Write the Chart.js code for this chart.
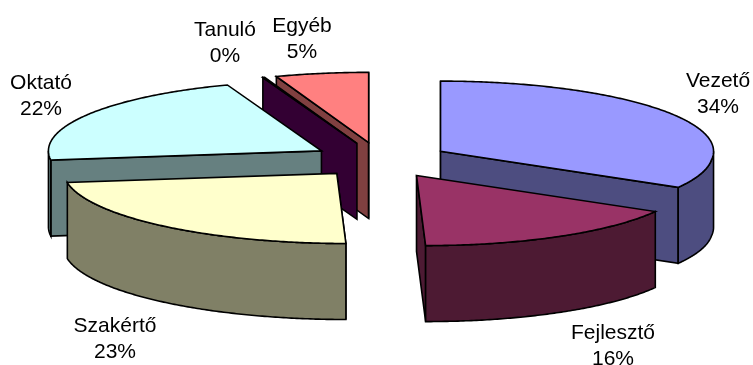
<!DOCTYPE html>
<html>
<head>
<meta charset="utf-8">
<title>Pie</title>
<script src="https://cdn.jsdelivr.net/npm/chart.js@4"></script>
<style>
html, body { margin: 0; padding: 0; background: #fff; }
#wrap { width: 753px; height: 365px; }
</style>
</head>
<body>
<div id="wrap"><canvas id="myChart"></canvas></div>
<script>
const categories = ['Vezető', 'Fejlesztő', 'Szakértő', 'Oktató', 'Tanuló', 'Egyéb'];
const shares = [33.6, 16.4, 22.9, 21.5, 0.11, 5.49];
const topColors = ['#9999FF', '#993366', '#FFFFCC', '#CCFFFF', '#660066', '#FF8080'];
const wallColors = ['#4D4D80', '#4D1A33', '#808066', '#668080', '#330033', '#804040'];

// back to front
const drawOrder = [5, 4, 3, 0, 1, 2];
// where each label goes (centre x, baseline of the first line)
const labelX = [718, 613, 115, 41, 225, 302];
const labelY = [87, 339, 332, 89, 36, 32];

const squash = 0.257;
const depth = 76;
const shear = 0.13;

function project(arc, x, y) {
	const py = y * squash;
	return {
		x: arc.x + x + (py > 0 ? py * shear : 0),
		y: arc.y + py
	};
}

function slicePoint(arc, angle, r) {
	const mid = (arc.startAngle + arc.endAngle) / 2;
	const off = arc.options.offset / 4;
	return project(arc,
		Math.cos(mid) * off + Math.cos(angle) * r,
		Math.sin(mid) * off + Math.sin(angle) * r);
}

function poly(ctx, pts, fill) {
	ctx.beginPath();
	pts.forEach((p, i) => {
		if (i === 0) ctx.moveTo(p.x, p.y);
		else ctx.lineTo(p.x, p.y);
	});
	ctx.closePath();
	ctx.fillStyle = fill;
	ctx.fill();
	ctx.stroke();
}

function down(p) {
	return { x: p.x, y: p.y + depth };
}

function arcPoints(arc, from, to) {
	const pts = [];
	const steps = Math.max(2, Math.ceil((to - from) / 0.01));
	for (let i = 0; i <= steps; i++) {
		pts.push(slicePoint(arc, from + (to - from) * i / steps, arc.outerRadius));
	}
	return pts;
}

function drawSlice(ctx, arc, wall, top) {
	const apex = slicePoint(arc, 0, 0);
	const start = arc.startAngle;
	const end = arc.endAngle;
	const a = slicePoint(arc, start, arc.outerRadius);
	const b = slicePoint(arc, end, arc.outerRadius);

	// cut faces, only the ones turned to the viewer
	if (Math.cos(start) < 0.001) poly(ctx, [apex, a, down(a), down(apex)], wall);
	if (Math.cos(end) > -0.001) poly(ctx, [apex, b, down(b), down(apex)], wall);

	// outer wall, the front half of the rim
	const from = Math.max(start, 0);
	const to = Math.min(end, Math.PI);
	if (to > from) {
		const rim = arcPoints(arc, from, to);
		poly(ctx, rim.concat(rim.map(down).reverse()), wall);
	}

	poly(ctx, [apex].concat(arcPoints(arc, start, end)), top);
}

const pie3d = {
	id: 'pie3d',
	beforeDatasetDraw(chart, args) {
		const ctx = chart.ctx;
		const arcs = args.meta.data;
		ctx.save();
		ctx.strokeStyle = '#000';
		ctx.lineWidth = 1.6;
		ctx.lineJoin = 'miter';
		drawOrder.forEach(i => drawSlice(ctx, arcs[i], wallColors[i], topColors[i]));
		ctx.restore();
		return false;
	},
	afterDraw(chart) {
		const ctx = chart.ctx;
		ctx.save();
		ctx.fillStyle = '#000';
		ctx.font = '21px "Liberation Sans"';
		ctx.textAlign = 'center';
		categories.forEach((name, i) => {
			ctx.fillText(name, labelX[i], labelY[i]);
			ctx.fillText(Math.round(shares[i]) + '%', labelX[i], labelY[i] + 26);
		});
		ctx.restore();
	}
};

new Chart(document.getElementById('myChart'), {
	type: 'pie',
	data: {
		labels: categories,
		datasets: [{
			data: shares,
			backgroundColor: topColors,
			offset: 276,
			radius: 273
		}]
	},
	options: {
		responsive: true,
		maintainAspectRatio: false,
		animation: false,
		events: [],
		layout: { padding: { left: 8, bottom: 45 } },
		plugins: {
			legend: { display: false },
			tooltip: { enabled: false }
		}
	},
	plugins: [pie3d]
});
</script>
</body>
</html>
